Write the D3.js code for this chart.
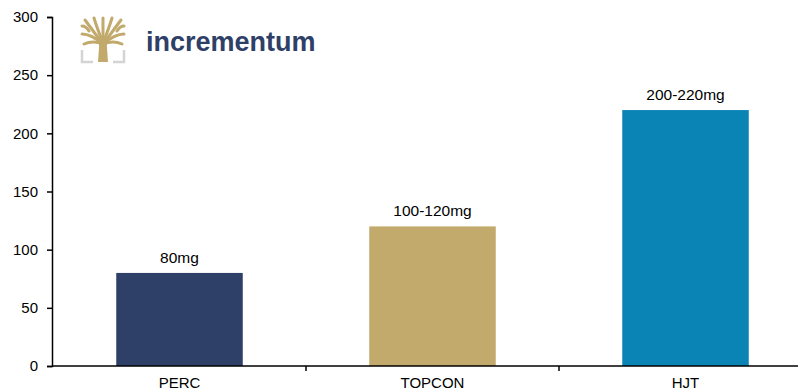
<!DOCTYPE html>
<html>
<head>
<meta charset="utf-8">
<script src="https://cdn.jsdelivr.net/npm/d3@7"></script>
<style>
  body { margin: 0; background: #fff; }
  text { font-family: "Liberation Sans", Arial, sans-serif; }
</style>
</head>
<body>
<div id="chart"></div>
<script>
// chart data
var categories = ["PERC", "TOPCON", "HJT"]
var values = [80, 120, 220]
var labels = ["80mg", "100-120mg", "200-220mg"]
var colors = ["#2e4068", "#c2a96c", "#0a84b5"]
var yTicks = [0, 50, 100, 150, 200, 250, 300]

var width = 798,
    height = 390

var svg = d3.select("#chart")
  .append("svg")
    .attr("width", width)
    .attr("height", height)

// scales
var x = d3.scaleBand()
  .domain(categories)
  .range([53, 812])
  .paddingInner(0.5)
  .paddingOuter(0.25)

var y = d3.scaleLinear()
  .domain([0, 300])
  .range([366, 17])

// bars
svg.selectAll("rect.bar")
  .data(values)
  .enter()
  .append("rect")
    .attr("class", "bar")
    .attr("x", function(d, i) { return x(categories[i]) })
    .attr("width", x.bandwidth())
    .attr("y", function(d) { return y(d) })
    .attr("height", function(d) { return y(0) - y(d) })
    .attr("fill", function(d, i) { return colors[i] })

// value labels
svg.selectAll("text.lbl")
  .data(values)
  .enter()
  .append("text")
    .attr("class", "lbl")
    .attr("x", function(d, i) { return x(categories[i]) + x.bandwidth() / 2 })
    .attr("y", function(d) { return y(d) - 10 })
    .attr("text-anchor", "middle")
    .style("font-size", "15.5px")
    .attr("fill", "#000")
    .text(function(d, i) { return labels[i] })

// y axis
var yAxis = svg.append("g")
  .attr("transform", "translate(52,0)")
  .call(d3.axisLeft(y).tickValues(yTicks).tickSize(5).tickPadding(9))
yAxis.select(".domain").attr("stroke", "#000").attr("stroke-width", 1.5)
yAxis.selectAll(".tick line").attr("stroke", "#000").attr("stroke-width", 1.5)
yAxis.selectAll(".tick text")
  .style("font-size", "15px")
  .style("font-family", "Liberation Sans, Arial, sans-serif")
  .attr("fill", "#000")

// x axis, ticks sit on the band boundaries
var bounds = categories.map(function(c) { return x(c) - x.step() * x.paddingInner() / 2 })
bounds.push(x.range()[1])
var xg = svg.append("g").attr("transform", "translate(0," + y(0) + ")")
xg.append("line")
  .attr("x1", 52).attr("x2", width)
  .attr("stroke", "#000").attr("stroke-width", 1.5)
xg.selectAll("line.tk")
  .data(bounds.slice(1, 3))
  .enter()
  .append("line")
    .attr("class", "tk")
    .attr("x1", function(d) { return d }).attr("x2", function(d) { return d })
    .attr("y1", 0).attr("y2", 5)
    .attr("stroke", "#000").attr("stroke-width", 1.5)
xg.selectAll("text")
  .data(categories)
  .enter()
  .append("text")
    .attr("x", function(d) { return x(d) + x.bandwidth() / 2 })
    .attr("y", 22)
    .attr("text-anchor", "middle")
    .style("font-size", "15px")
    .attr("fill", "#000")
    .text(function(d) { return d })

// logo
var logo = svg.append("g").attr("transform", "translate(81,18)")
var gold = "#c2a96c"
// grey brackets
logo.append("path")
  .attr("d", "M1,32 V44 H12 M43,32 V44 H32")
  .attr("fill", "none").attr("stroke", "#d4d4d4").attr("stroke-width", 2.5)
// trunk
logo.append("path")
  .attr("d", "M17,44 L18,30 Q19,24 14,20 L30,20 Q25,24 26,30 L27,44 Z")
  .attr("fill", gold)
// branches
var branches = [
  "M22,26 Q12,22 3,26", "M22,26 Q10,16 1,16", "M21,25 Q10,10 4,2",
  "M22,25 Q16,10 13,0", "M22,25 Q22,10 22,0", "M22,25 Q28,10 31,0",
  "M23,25 Q34,10 40,2", "M22,26 Q34,16 43,16", "M22,26 Q32,22 41,26",
  "M8,13 Q5,8 1,8", "M36,13 Q39,8 43,8"
]
logo.selectAll("path.br")
  .data(branches)
  .enter()
  .append("path")
    .attr("class", "br")
    .attr("d", function(d) { return d })
    .attr("fill", "none")
    .attr("stroke", gold)
    .attr("stroke-width", 3)
    .attr("stroke-linecap", "round")

svg.append("text")
  .attr("x", 146)
  .attr("y", 51)
  .style("font-size", "27px")
  .style("font-weight", "bold")
  .attr("fill", "#2e4068")
  .text("incrementum")
</script>
</body>
</html>
